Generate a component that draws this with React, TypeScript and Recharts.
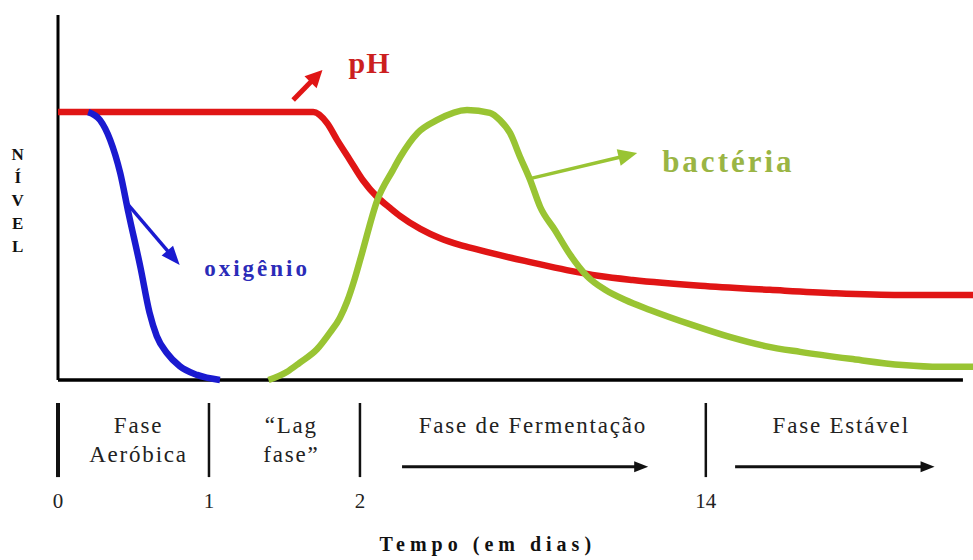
import React from 'react';
import { LineChart, Line, XAxis, YAxis, ReferenceLine, ReferenceDot } from 'recharts';

// Schematic: x = position along the time strip (0-100), y = relative level (0-100)
const phData = [
  { x: 0, y: 73.4 }, { x: 27.9, y: 73.4 }, { x: 29.4, y: 70.4 }, { x: 30.5, y: 65.8 },
  { x: 31.9, y: 60.3 }, { x: 33.3, y: 54.8 }, { x: 34.9, y: 50.1 }, { x: 36.3, y: 47.1 },
  { x: 37.4, y: 44.9 }, { x: 39.6, y: 41.4 }, { x: 41.7, y: 38.9 }, { x: 43.9, y: 37.0 },
  { x: 46.1, y: 35.6 }, { x: 48.3, y: 34.2 }, { x: 51.6, y: 32.3 }, { x: 55.6, y: 30.1 },
  { x: 59.2, y: 28.5 }, { x: 62.8, y: 27.4 }, { x: 70.2, y: 25.8 }, { x: 77.8, y: 24.7 },
  { x: 84.7, y: 23.8 }, { x: 92.0, y: 23.3 }, { x: 100, y: 23.3 },
];

const oxygenData = [
  { x: 3.3, y: 73.4 }, { x: 4.6, y: 71.2 }, { x: 5.7, y: 65.8 }, { x: 6.8, y: 56.7 },
  { x: 7.7, y: 45.8 }, { x: 9.0, y: 31.0 }, { x: 10.0, y: 18.5 }, { x: 10.8, y: 12.0 },
  { x: 11.9, y: 7.4 }, { x: 13.3, y: 3.8 }, { x: 15.2, y: 1.4 }, { x: 17.7, y: 0 },
];

const bacteriaData = [
  { x: 23.0, y: 0 }, { x: 25.0, y: 2.2 }, { x: 26.4, y: 4.7 }, { x: 28.3, y: 8.4 },
  { x: 29.7, y: 12.9 }, { x: 30.8, y: 17.0 }, { x: 31.6, y: 21.5 }, { x: 32.4, y: 27.5 },
  { x: 33.2, y: 34.5 }, { x: 34.9, y: 49.3 }, { x: 36.6, y: 57.5 }, { x: 37.4, y: 61.1 },
  { x: 39.3, y: 67.7 }, { x: 41.4, y: 71.2 }, { x: 44.7, y: 74.0 }, { x: 47.2, y: 73.2 },
  { x: 48.3, y: 71.2 }, { x: 49.4, y: 67.7 }, { x: 50.5, y: 61.1 }, { x: 51.6, y: 54.8 },
  { x: 52.7, y: 47.4 }, { x: 54.3, y: 41.1 }, { x: 56.0, y: 34.2 }, { x: 57.8, y: 28.5 },
  { x: 59.8, y: 24.7 }, { x: 62.0, y: 21.9 }, { x: 64.7, y: 19.2 }, { x: 69.3, y: 15.1 },
  { x: 73.4, y: 11.8 }, { x: 77.3, y: 9.3 }, { x: 81.1, y: 7.7 }, { x: 86.6, y: 5.8 },
  { x: 92.3, y: 4.1 }, { x: 96.4, y: 3.6 }, { x: 100, y: 3.6 },
];

const tickPositions = [0, 16.5, 33.0, 70.8];
const tickLabels = ['0', '1', '2', '14'];

const phaseLabels = [
  { lines: ['Fase', 'Aeróbica'], x: 8.7 },
  { lines: ['\u201cLag', 'fase\u201d'], x: 25.4 },
  { lines: ['Fase de Fermentação'], x: 51.8 },
  { lines: ['Fase Estável'], x: 85.5 },
];
const phaseDividers = [0, 16.5, 33.0, 70.8];
const phaseArrows = [
  { from: 37.6, to: 64.5 },
  { from: 74.0, to: 95.8 },
];

const seriesLabels = [
  { text: 'pH', x: 34.0, y: 84.1, color: '#cc1f1f', size: 30, spacing: 1 },
  { text: 'oxigênio', x: 21.6, y: 28.5, color: '#2b2bb8', size: 23, spacing: 3 },
  { text: 'bactéria', x: 73.1, y: 57.0, color: '#9ab544', size: 31, spacing: 3 },
];

const seriesArrows = [
  { x1: 25.7, y1: 76.7, x2: 28.9, y2: 84.9, color: '#e01515', shaft: 5, head: 17, headW: 17 },
  { x1: 7.5, y1: 48.5, x2: 13.3, y2: 31.5, color: '#1a1ad0', shaft: 3.5, head: 19, headW: 15 },
  { x1: 51.8, y1: 55.3, x2: 63.3, y2: 62.2, color: '#99c433', shaft: 3.5, head: 19, headW: 17 },
];

const serif = '"Liberation Serif", "Times New Roman", Times, serif';

const textContent = (
  lines: string[],
  o: { size: number; weight?: string; color: string; spacing?: number; lineHeight?: number }
) => (p: any) => {
  const vb = p.viewBox || { x: 0, y: 0 };
  const sp = o.spacing || 0;
  const cx = vb.x + sp / 2;
  return (
    <text
      x={cx}
      y={vb.y}
      textAnchor="middle"
      fontFamily={serif}
      fontSize={o.size}
      fontWeight={o.weight || 'normal'}
      fill={o.color}
      letterSpacing={sp}
    >
      {lines.map((l, i) => (
        <tspan key={i} x={cx} dy={i === 0 ? 0 : o.lineHeight || o.size * 1.2}>
          {l}
        </tspan>
      ))}
    </text>
  );
};

const arrowShape = (color: string, shaft: number, headLen: number, headW: number) => (p: any) => {
  const { x1, y1, x2, y2 } = p;
  const dx = x2 - x1;
  const dy = y2 - y1;
  const len = Math.hypot(dx, dy) || 1;
  const ux = dx / len;
  const uy = dy / len;
  const bx = x2 - ux * headLen;
  const by = y2 - uy * headLen;
  const px = (-uy * headW) / 2;
  const py = (ux * headW) / 2;
  return (
    <g>
      <line x1={x1} y1={y1} x2={bx + ux * 2} y2={by + uy * 2} stroke={color} strokeWidth={shaft} />
      <polygon points={`${x2},${y2} ${bx + px},${by + py} ${bx - px},${by - py}`} fill={color} />
    </g>
  );
};

export default function App() {
  return (
    <div style={{ position: 'absolute', left: 0, top: 0, width: 973, height: 560, background: '#fff' }}>
      <LineChart width={973} height={560} margin={{ top: 15, right: 0, bottom: 150, left: 58 }}>
        <XAxis
          dataKey="x"
          type="number"
          domain={[0, 100]}
          ticks={tickPositions}
          tickFormatter={(v: number) => tickLabels[tickPositions.indexOf(v)] ?? ''}
          axisLine={false}
          tickLine={false}
          tickSize={0}
          tickMargin={113}
          height={30}
          interval={0}
          tick={{ fontSize: 21, fill: '#222', fontFamily: serif }}
        />
        <YAxis type="number" domain={[0, 100]} hide />

        {/* axes */}
        <ReferenceLine segment={[{ x: 0, y: 0 }, { x: 0, y: 100 }]} stroke="#000" strokeWidth={3} ifOverflow="visible" />
        <ReferenceLine segment={[{ x: 0, y: 0 }, { x: 98.9, y: 0 }]} stroke="#000" strokeWidth={3.5} ifOverflow="visible" />

        <Line data={phData} dataKey="y" type="monotone" stroke="#e01515" strokeWidth={6.5} dot={false} activeDot={false} isAnimationActive={false} />
        <Line data={oxygenData} dataKey="y" type="monotone" stroke="#1a1ad0" strokeWidth={6.5} dot={false} activeDot={false} isAnimationActive={false} />
        <Line data={bacteriaData} dataKey="y" type="monotone" stroke="#99c433" strokeWidth={6.5} dot={false} activeDot={false} isAnimationActive={false} />

        {seriesArrows.map((a, i) => (
          <ReferenceLine
            key={'sa' + i}
            segment={[{ x: a.x1, y: a.y1 }, { x: a.x2, y: a.y2 }]}
            ifOverflow="visible"
            shape={arrowShape(a.color, a.shaft, a.head, a.headW)}
          />
        ))}

        {seriesLabels.map((s, i) => (
          <ReferenceDot
            key={'sl' + i}
            x={s.x}
            y={s.y}
            r={0}
            fill="none"
            stroke="none"
            ifOverflow="visible"
            label={textContent([s.text], { size: s.size, weight: 'bold', color: s.color, spacing: s.spacing })}
          />
        ))}

        {/* Y label */}
        <ReferenceDot
          x={-4.4}
          y={60.3}
          r={0}
          fill="none"
          stroke="none"
          ifOverflow="visible"
          label={textContent('NÍVEL'.split(''), { size: 17, weight: 'bold', color: '#111', lineHeight: 23 })}
        />

        {/* phase dividers */}
        {phaseDividers.map((d, i) => (
          <ReferenceLine
            key={'pd' + i}
            segment={[{ x: d, y: -6.3 }, { x: d, y: -26.6 }]}
            stroke="#111"
            strokeWidth={i === 0 ? 4 : 2.5}
            ifOverflow="visible"
          />
        ))}

        {phaseArrows.map((a, i) => (
          <ReferenceLine
            key={'pa' + i}
            segment={[{ x: a.from, y: -23.8 }, { x: a.to, y: -23.8 }]}
            ifOverflow="visible"
            shape={arrowShape('#111', 3, 14, 11)}
          />
        ))}

        {phaseLabels.map((p, i) => (
          <ReferenceDot
            key={'pl' + i}
            x={p.x}
            y={-14.5}
            r={0}
            fill="none"
            stroke="none"
            ifOverflow="visible"
            label={textContent(p.lines, { size: 23, color: '#222', spacing: 1.8, lineHeight: 29 })}
          />
        ))}

        {/* x title */}
        <ReferenceDot
          x={46.7}
          y={-46.8}
          r={0}
          fill="none"
          stroke="none"
          ifOverflow="visible"
          label={textContent(['Tempo (em dias)'], { size: 20, weight: 'bold', color: '#111', spacing: 5 })}
        />
      </LineChart>
    </div>
  );
}
